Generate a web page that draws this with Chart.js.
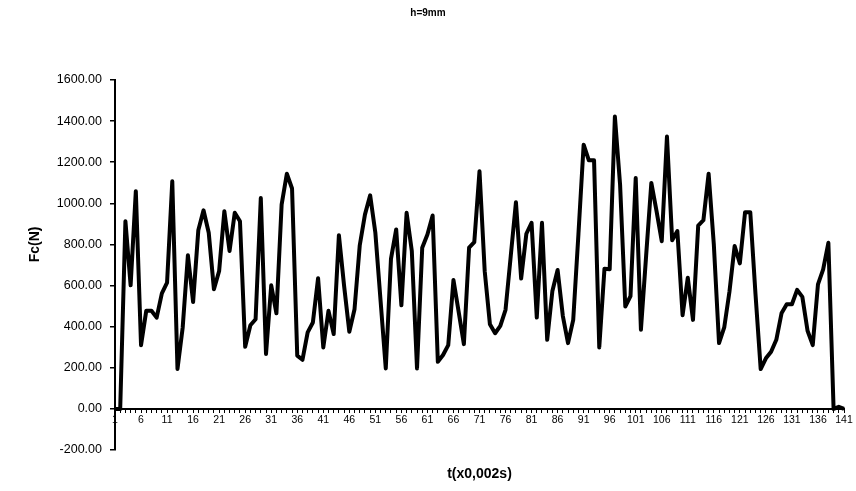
<!DOCTYPE html>
<html>
<head>
<meta charset="utf-8">
<title>h=9mm</title>
<script src="https://cdn.jsdelivr.net/npm/chart.js@4/dist/chart.umd.min.js"></script>
<style>
  html, body { margin: 0; padding: 0; background: #fff; }
  #wrap { width: 856px; height: 491px; }
</style>
</head>
<body>
<div id="wrap"><canvas id="c" width="856" height="491"></canvas></div>
<script>
// Cutting force Fc (N) sampled every 0.002 s, depth h = 9 mm
const chartTitle = 'h=9mm';
const xTitle = 't(x0,002s)';
const yTitle = 'Fc(N)';

// sample index 1..141
const samples = Array.from({ length: 141 }, (_, i) => i + 1);

const fc = [
  0, 0, 913, 601, 1059, 310, 477, 477, 444, 562,
  614, 1107, 194, 396, 747, 520, 869, 966, 857, 582,
  671, 962, 768, 954, 913, 302, 407, 436, 1026, 267,
  601, 465, 994, 1144, 1072, 259, 239, 372, 420, 636,
  299, 477, 364, 845, 598, 375, 485, 795, 945, 1039,
  857, 527, 197, 730, 873, 504, 954, 768, 197, 784,
  848, 941, 229, 262, 310, 627, 472, 315, 784, 811,
  1156, 670, 412, 368, 404, 482, 743, 1005, 634, 852,
  905, 444, 905, 336, 574, 676, 453, 320, 433, 850,
  1285, 1209, 1209, 299, 682, 679, 1422, 1090, 498, 549,
  1123, 385, 745, 1099, 962, 816, 1325, 821, 865, 456,
  638, 433, 892, 918, 1144, 800, 320, 396, 570, 792,
  708, 957, 957, 560, 194, 246, 278, 336, 465, 509,
  509, 579, 545, 380, 310, 606, 679, 808, 0, 10,
  0
];

const yMin = -200, yMax = 1600, yStep = 200;

const FONT = '"Liberation Sans", Arial, Helvetica, sans-serif';

// chart and axis titles
const titles = {
  id: 'titles',
  afterDraw(chart) {
    const ctx = chart.ctx;
    const area = chart.chartArea;
    const ys = chart.scales.y;
    ctx.save();
    ctx.fillStyle = '#000';
    ctx.textAlign = 'center';
    ctx.textBaseline = 'middle';
    ctx.font = 'bold 10px ' + FONT;
    ctx.fillText(chartTitle, 428, 13);
    ctx.font = 'bold 14px ' + FONT;
    ctx.fillText(xTitle, (area.left + area.right) / 2, 474);
    ctx.translate(35, (ys.getPixelForValue(yMax) + ys.getPixelForValue(0)) / 2);
    ctx.rotate(-Math.PI / 2);
    ctx.fillText(yTitle, 0, 0);
    ctx.restore();
  }
};

new Chart(document.getElementById('c'), {
  type: 'line',
  data: {
    labels: samples,
    datasets: [{
      data: fc,
      borderColor: '#000',
      borderWidth: 4,
      borderJoinStyle: 'round',
      pointRadius: 0,
      tension: 0,
      fill: false
    }]
  },
  options: {
    responsive: false,
    animation: false,
    devicePixelRatio: 1,
    layout: { padding: { top: 80, bottom: 41, left: 0, right: 12 } },
    plugins: { legend: { display: false }, tooltip: { enabled: false }, title: { display: false } },
    scales: {
      x: {
        position: { y: 0 },
        offset: false,
        grid: { drawOnChartArea: false, drawTicks: true, tickLength: 3, color: '#000', lineWidth: 1 },
        border: { display: true, color: '#000', width: 2 },
        ticks: {
          autoSkip: false,
          maxRotation: 0,
          minRotation: 0,
          padding: 2,
          color: '#000',
          font: { family: FONT, size: 10.5 },
          callback: (v, i) => (i % 5 === 0 ? String(samples[i]) : '')
        }
      },
      y: {
        min: yMin,
        max: yMax,
        afterFit: (s) => { s.width = 115; },
        grid: { drawOnChartArea: false, drawTicks: true, tickLength: 5, color: '#000', lineWidth: 1.5 },
        border: { display: true, color: '#000', width: 2 },
        ticks: {
          stepSize: yStep,
          padding: 8,
          color: '#000',
          font: { family: FONT, size: 12.5 },
          callback: (v) => Number(v).toFixed(2)
        }
      }
    }
  },
  plugins: [titles]
});
</script>
</body>
</html>
